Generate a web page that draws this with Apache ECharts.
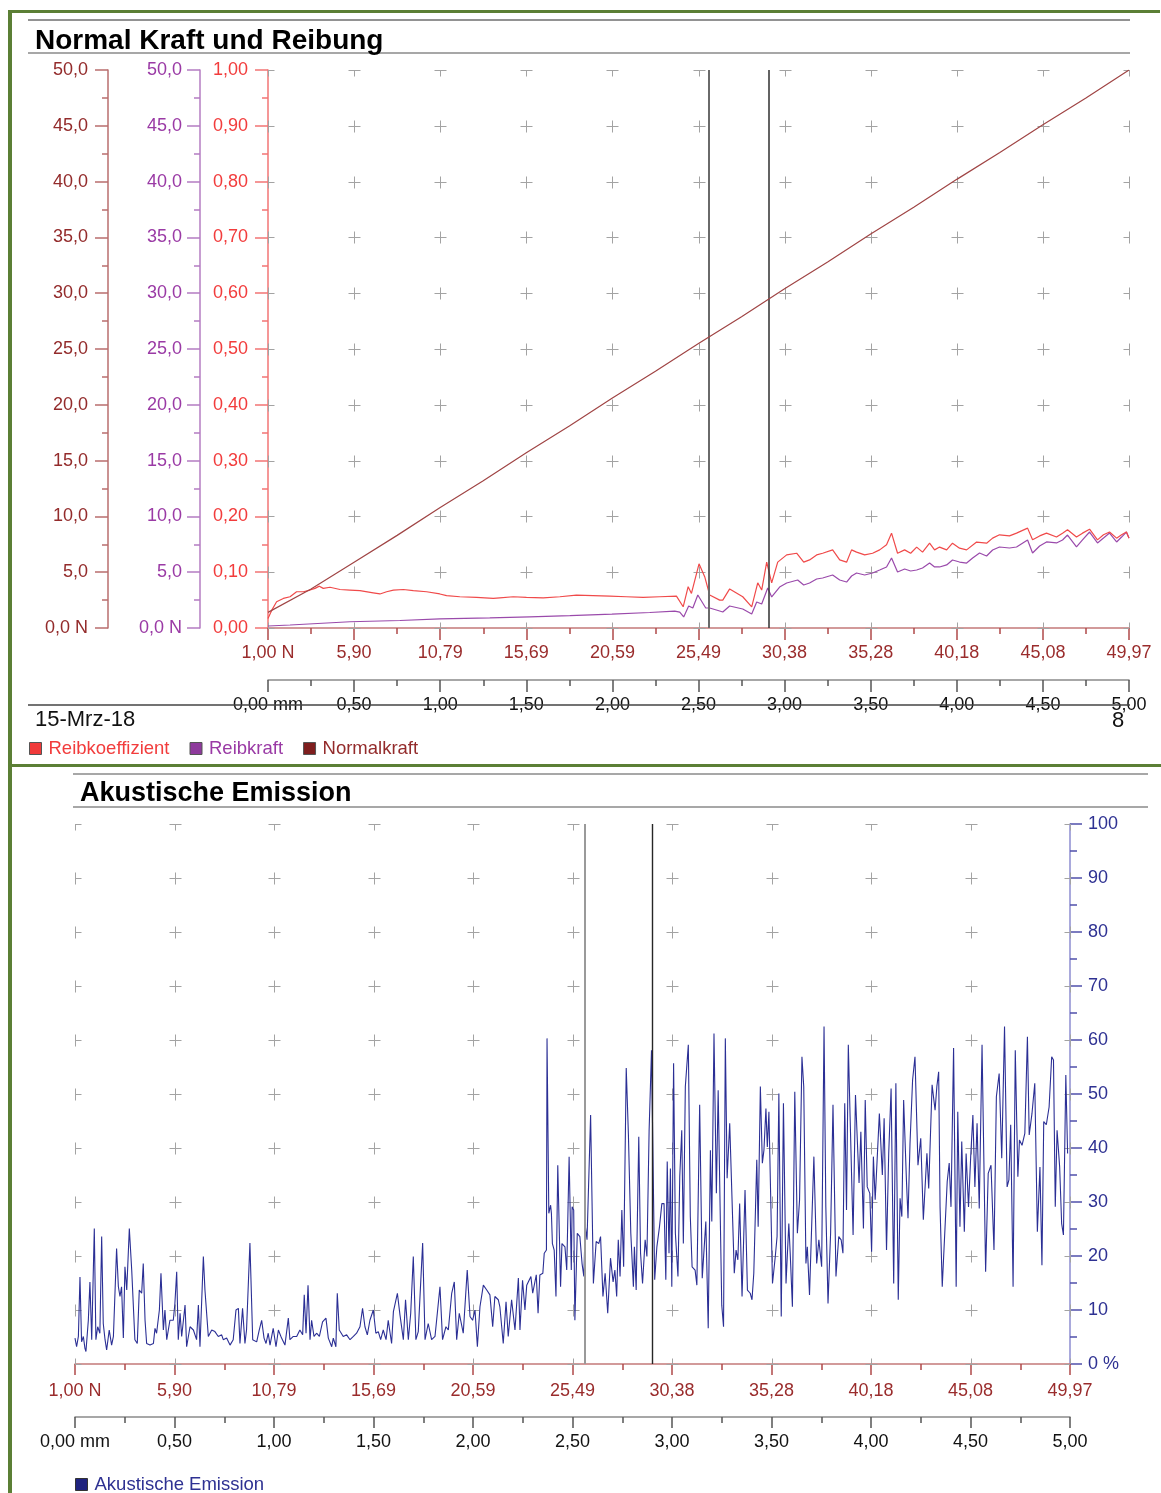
<!DOCTYPE html>
<html><head><meta charset="utf-8">
<script src="https://cdn.jsdelivr.net/npm/echarts@6/dist/echarts.min.js"></script>
<style>html,body{margin:0;padding:0;background:#fff;}#c{width:1161px;height:1493px;}</style>
</head><body><div id="c"></div>
<script>
const FONT = '"Liberation Sans", Arial, Helvetica, sans-serif';

// ---- tick labels ----
const xLabelsN = ['1,00 N','5,90','10,79','15,69','20,59','25,49','30,38','35,28','40,18','45,08','49,97'];
const xLabelsMm = ['0,00 mm','0,50','1,00','1,50','2,00','2,50','3,00','3,50','4,00','4,50','5,00'];
const coefLabels = ['0,00','0,10','0,20','0,30','0,40','0,50','0,60','0,70','0,80','0,90','1,00'];
const kraftLabels = ['0,0 N','5,0','10,0','15,0','20,0','25,0','30,0','35,0','40,0','45,0','50,0'];
const aeLabels = ['0 %','10','20','30','40','50','60','70','80','90','100'];

// ---- marker positions (mm) ----
const markersTop = [2.565, 2.908];
const markersBottom = [2.563, 2.905];

// ---- series: [Weg mm, Wert] ----
const normalkraft = [[0,1.4],[0.25,3.5],[0.5,5.9],[0.75,8.3],[1.0,10.8],[1.25,13.2],[1.5,15.7],[1.75,18.1],[2.0,20.6],[2.25,23.0],[2.5,25.5],[2.75,27.9],[3.0,30.4],[3.25,32.8],[3.5,35.3],[3.75,37.7],[4.0,40.2],[4.25,42.6],[4.5,45.1],[4.75,47.5],[5.0,50.0]];

const reibkoeffizient = [[0.000,0.017],[0.022,0.032],[0.050,0.047],[0.089,0.053],[0.128,0.056],[0.166,0.065],[0.205,0.065],[0.244,0.068],[0.273,0.071],[0.298,0.075],[0.321,0.071],[0.360,0.073],[0.418,0.069],[0.476,0.068],[0.534,0.067],[0.611,0.063],[0.650,0.061],[0.689,0.065],[0.728,0.068],[0.786,0.069],[0.844,0.067],[0.921,0.065],[0.998,0.061],[1.037,0.058],[1.114,0.056],[1.211,0.055],[1.308,0.053],[1.346,0.054],[1.424,0.056],[1.501,0.055],[1.598,0.054],[1.695,0.056],[1.791,0.059],[1.888,0.058],[1.985,0.057],[2.081,0.056],[2.178,0.055],[2.275,0.056],[2.372,0.057],[2.411,0.038],[2.440,0.074],[2.459,0.062],[2.503,0.115],[2.536,0.092],[2.565,0.059],[2.623,0.050],[2.641,0.050],[2.681,0.070],[2.757,0.056],[2.809,0.038],[2.844,0.081],[2.867,0.068],[2.896,0.118],[2.925,0.081],[2.960,0.118],[3.012,0.131],[3.070,0.134],[3.111,0.118],[3.145,0.122],[3.186,0.131],[3.221,0.134],[3.279,0.140],[3.320,0.122],[3.360,0.118],[3.389,0.140],[3.418,0.136],[3.465,0.131],[3.511,0.134],[3.552,0.140],[3.592,0.149],[3.621,0.170],[3.656,0.134],[3.697,0.140],[3.732,0.134],[3.767,0.145],[3.801,0.136],[3.842,0.152],[3.871,0.140],[3.900,0.145],[3.941,0.140],[3.975,0.152],[4.016,0.143],[4.057,0.140],[4.115,0.154],[4.173,0.152],[4.208,0.161],[4.248,0.167],[4.306,0.165],[4.347,0.170],[4.411,0.179],[4.440,0.158],[4.481,0.165],[4.521,0.170],[4.579,0.163],[4.614,0.170],[4.643,0.176],[4.695,0.163],[4.730,0.170],[4.771,0.177],[4.817,0.158],[4.852,0.167],[4.887,0.172],[4.928,0.161],[4.957,0.167],[4.985,0.172],[5.000,0.161]];

const reibkraft = [[0.000,0.18],[0.128,0.27],[0.476,0.56],[0.766,0.67],[0.998,0.81],[1.288,0.90],[1.520,1.00],[1.753,1.10],[1.997,1.25],[2.217,1.39],[2.362,1.52],[2.391,1.43],[2.414,0.99],[2.443,1.97],[2.467,1.79],[2.496,2.96],[2.542,1.79],[2.565,1.79],[2.623,1.52],[2.641,1.43],[2.681,1.97],[2.757,1.70],[2.809,1.25],[2.838,2.33],[2.867,2.15],[2.902,3.58],[2.925,2.78],[2.971,3.67],[3.012,4.03],[3.076,4.30],[3.111,3.85],[3.145,4.03],[3.186,4.39],[3.221,4.48],[3.279,4.75],[3.320,4.30],[3.360,4.12],[3.389,4.66],[3.418,4.93],[3.465,4.75],[3.511,4.93],[3.552,5.20],[3.592,5.47],[3.621,6.27],[3.656,5.02],[3.697,5.29],[3.732,5.11],[3.767,5.20],[3.801,5.38],[3.842,5.82],[3.871,5.47],[3.900,5.47],[3.941,5.65],[3.975,6.09],[4.016,5.91],[4.057,5.82],[4.092,6.27],[4.132,6.72],[4.173,6.45],[4.208,6.99],[4.248,7.26],[4.306,7.17],[4.347,7.26],[4.411,7.89],[4.440,6.72],[4.481,7.35],[4.521,7.71],[4.579,7.62],[4.614,7.89],[4.643,8.33],[4.695,7.26],[4.730,7.89],[4.771,8.60],[4.817,7.62],[4.852,8.06],[4.887,8.51],[4.928,7.71],[4.957,8.15],[4.985,8.60],[5.000,8.06]];

const akustischeEmission = [[0.000,4.8],[0.008,3.2],[0.017,5.1],[0.025,16.1],[0.033,4.1],[0.042,5.1],[0.050,2.9],[0.055,2.3],[0.067,8.1],[0.075,15.2],[0.084,4.5],[0.097,25.1],[0.105,4.5],[0.114,6.9],[0.125,5.7],[0.134,23.6],[0.142,7.5],[0.151,4.5],[0.159,2.6],[0.172,6.3],[0.184,3.5],[0.193,5.1],[0.209,21.4],[0.218,14.3],[0.226,12.5],[0.234,14.3],[0.243,4.8],[0.251,18.0],[0.260,13.7],[0.273,25.1],[0.285,17.4],[0.301,4.5],[0.313,3.8],[0.323,13.7],[0.335,13.1],[0.343,18.6],[0.352,8.1],[0.360,3.8],[0.377,3.5],[0.394,3.8],[0.402,6.6],[0.410,5.7],[0.424,10.0],[0.432,16.8],[0.444,6.3],[0.452,10.0],[0.461,4.5],[0.477,8.1],[0.494,8.1],[0.502,11.2],[0.511,17.1],[0.519,4.5],[0.528,9.4],[0.536,5.1],[0.553,10.9],[0.561,3.2],[0.578,6.9],[0.595,6.3],[0.611,4.5],[0.620,10.9],[0.628,3.2],[0.645,19.9],[0.653,13.7],[0.661,13.7],[0.670,5.1],[0.687,6.3],[0.703,6.0],[0.720,5.1],[0.737,5.4],[0.745,4.5],[0.762,4.8],[0.779,3.5],[0.795,4.5],[0.809,10.0],[0.821,10.3],[0.829,3.8],[0.842,10.3],[0.854,3.8],[0.862,6.3],[0.879,22.4],[0.893,4.5],[0.913,4.1],[0.926,6.3],[0.938,8.1],[0.950,4.8],[0.960,3.8],[0.971,5.7],[0.980,3.5],[0.996,6.6],[1.010,3.2],[1.022,6.3],[1.038,4.8],[1.055,3.5],[1.072,8.5],[1.080,4.5],[1.097,5.1],[1.114,5.1],[1.130,6.3],[1.144,5.4],[1.152,12.8],[1.161,5.7],[1.171,14.6],[1.181,4.5],[1.189,8.1],[1.201,5.1],[1.214,5.7],[1.228,5.1],[1.244,7.8],[1.261,8.5],[1.273,4.8],[1.290,3.2],[1.298,4.8],[1.311,3.2],[1.318,13.1],[1.328,6.3],[1.348,5.1],[1.365,5.4],[1.382,4.5],[1.399,5.1],[1.415,5.7],[1.432,6.9],[1.445,10.3],[1.457,6.9],[1.469,5.4],[1.482,8.1],[1.499,10.0],[1.512,5.7],[1.524,6.0],[1.536,4.5],[1.549,6.3],[1.563,4.5],[1.574,8.1],[1.591,3.8],[1.600,9.7],[1.620,13.1],[1.633,9.1],[1.650,4.5],[1.661,11.9],[1.675,4.5],[1.687,9.4],[1.700,19.9],[1.713,4.5],[1.725,6.0],[1.747,22.4],[1.759,4.5],[1.775,7.5],[1.792,4.5],[1.809,5.1],[1.834,14.3],[1.847,4.5],[1.864,6.9],[1.876,6.3],[1.893,13.1],[1.906,15.2],[1.918,4.5],[1.931,9.4],[1.951,5.7],[1.971,17.4],[1.985,8.8],[1.998,8.1],[2.010,10.0],[2.022,3.2],[2.035,10.6],[2.052,14.6],[2.069,13.7],[2.085,12.8],[2.099,6.9],[2.110,12.5],[2.127,11.9],[2.135,10.6],[2.152,3.8],[2.166,11.5],[2.177,5.1],[2.194,11.9],[2.211,6.3],[2.228,15.9],[2.236,6.3],[2.249,15.5],[2.261,10.0],[2.270,14.6],[2.291,16.2],[2.300,13.1],[2.318,16.5],[2.327,9.4],[2.336,16.5],[2.351,16.8],[2.358,20.5],[2.369,21.1],[2.372,60.3],[2.381,27.9],[2.390,29.4],[2.394,27.9],[2.399,22.3],[2.408,21.1],[2.417,12.5],[2.426,36.8],[2.440,14.3],[2.447,22.3],[2.462,21.7],[2.471,17.4],[2.483,38.4],[2.494,17.4],[2.498,29.1],[2.506,28.5],[2.512,8.1],[2.524,24.2],[2.537,23.6],[2.548,18.6],[2.557,16.2],[2.564,25.7],[2.573,23.0],[2.591,46.1],[2.605,14.9],[2.619,22.7],[2.632,22.3],[2.641,23.6],[2.653,12.5],[2.664,16.8],[2.677,9.4],[2.691,19.6],[2.704,15.2],[2.713,17.4],[2.722,12.5],[2.730,23.0],[2.739,16.2],[2.748,28.5],[2.757,18.0],[2.770,54.8],[2.781,42.4],[2.793,24.2],[2.806,14.3],[2.811,21.7],[2.820,13.7],[2.833,42.1],[2.842,20.5],[2.852,14.9],[2.865,23.0],[2.874,19.9],[2.885,43.3],[2.897,58.1],[2.913,15.6],[2.924,21.7],[2.937,25.4],[2.949,29.7],[2.960,29.7],[2.969,15.6],[2.976,37.5],[2.985,20.5],[2.992,36.2],[2.999,14.3],[3.008,55.7],[3.017,24.2],[3.030,16.2],[3.039,34.7],[3.049,43.3],[3.057,22.3],[3.067,51.4],[3.082,59.1],[3.092,27.3],[3.101,18.0],[3.116,17.4],[3.125,14.6],[3.139,48.0],[3.152,15.9],[3.170,26.4],[3.182,6.6],[3.193,39.6],[3.200,26.4],[3.211,61.2],[3.223,31.6],[3.232,50.7],[3.241,50.7],[3.250,10.9],[3.259,6.9],[3.268,60.3],[3.277,34.4],[3.290,44.6],[3.300,44.6],[3.313,16.8],[3.322,21.1],[3.331,19.3],[3.340,29.7],[3.352,12.5],[3.367,32.2],[3.379,13.7],[3.393,13.1],[3.402,11.9],[3.411,16.8],[3.426,37.8],[3.433,25.4],[3.444,51.4],[3.454,37.2],[3.462,39.6],[3.472,47.3],[3.479,40.2],[3.487,46.7],[3.494,46.4],[3.505,14.9],[3.519,19.9],[3.528,23.6],[3.537,50.1],[3.549,8.8],[3.560,48.3],[3.573,14.9],[3.587,26.0],[3.594,20.5],[3.605,10.6],[3.617,50.4],[3.630,24.2],[3.641,30.4],[3.653,56.9],[3.662,51.4],[3.673,18.6],[3.680,21.7],[3.691,12.8],[3.702,25.7],[3.713,38.4],[3.727,18.6],[3.738,23.0],[3.752,18.0],[3.764,62.5],[3.773,29.1],[3.784,11.2],[3.797,24.2],[3.809,48.0],[3.824,16.2],[3.838,23.6],[3.850,23.0],[3.859,20.5],[3.868,48.3],[3.877,28.5],[3.886,59.1],[3.895,45.8],[3.910,23.9],[3.922,49.8],[3.931,49.5],[3.940,33.5],[3.949,43.0],[3.962,25.1],[3.971,48.9],[3.981,32.8],[3.994,31.6],[4.003,20.8],[4.012,38.4],[4.021,30.4],[4.030,37.2],[4.042,46.4],[4.057,35.0],[4.066,45.5],[4.078,21.1],[4.089,39.0],[4.101,51.0],[4.114,14.9],[4.125,52.0],[4.137,11.9],[4.146,30.7],[4.155,27.3],[4.164,48.9],[4.178,34.1],[4.186,27.0],[4.196,40.8],[4.209,52.6],[4.221,56.9],[4.236,36.8],[4.250,41.8],[4.263,26.7],[4.281,39.0],[4.290,32.5],[4.298,32.5],[4.307,51.7],[4.322,47.0],[4.331,51.4],[4.340,54.1],[4.347,29.1],[4.358,14.3],[4.367,21.4],[4.376,21.4],[4.383,33.8],[4.393,37.2],[4.402,29.1],[4.415,58.5],[4.428,14.3],[4.436,46.7],[4.447,25.4],[4.456,41.2],[4.469,24.5],[4.478,39.0],[4.490,29.1],[4.501,38.4],[4.512,46.1],[4.522,32.8],[4.533,44.6],[4.544,28.8],[4.558,59.1],[4.576,17.1],[4.589,35.3],[4.603,36.8],[4.618,21.1],[4.630,49.5],[4.644,53.8],[4.657,38.1],[4.671,62.5],[4.684,32.8],[4.693,34.1],[4.702,44.3],[4.714,14.3],[4.725,58.1],[4.738,34.7],[4.746,41.5],[4.759,40.5],[4.773,42.7],[4.786,60.6],[4.795,42.4],[4.809,46.4],[4.823,52.0],[4.836,24.5],[4.849,36.5],[4.859,18.3],[4.868,44.9],[4.881,44.3],[4.895,47.6],[4.908,56.9],[4.917,56.3],[4.926,29.1],[4.935,43.3],[4.948,36.5],[4.958,26.0],[4.967,23.9],[4.979,53.5],[4.988,39.0]];

// ---- colours ----
const C = {
  coef: '#f23c3c', coefLine: '#f04a4a', coefAxis: '#f27474',
  kraft: '#9a3aa5', kraftLine: '#9a4aab', kraftAxis: '#b47cc2',
  normal: '#932b2b', normalLine: '#a04545', normalAxis: '#b96e6e',
  xRed: '#9a2c2c', xRedAxis: '#c47a7a', xRedTick: '#b04a4a',
  ae: '#2e3192', aeLine: '#2b2f95', aeAxis: '#8c8cd0',
  green: '#5b7f35'
};

const chart = echarts.init(document.getElementById('c'), null, {renderer: 'canvas'});

function yAxisDef(grid, pos, offset, min, max, interval, labels, lineColor, labelColor, margin) {
  return {
    type: 'value', gridIndex: grid, position: pos, offset: offset, min: min, max: max, interval: interval,
    axisLine: {show: true, onZero: false, lineStyle: {color: lineColor, width: 1.5}},
    axisTick: {show: true, inside: false, length: 13, lineStyle: {color: lineColor, width: 1.5}},
    minorTick: {show: true, splitNumber: 2, length: 6, lineStyle: {color: lineColor, width: 1.5}},
    splitLine: {show: false},
    axisLabel: {show: true, margin: margin, color: labelColor, fontSize: 18, fontFamily: FONT,
      formatter: function (v) { return labels[Math.round((v - min) / interval)]; }}
  };
}
function xAxisDef(grid, offset, labels, lineColor, tickColor, labelColor, margin, tickLen) {
  return {
    type: 'value', gridIndex: grid, position: 'bottom', offset: offset, min: 0, max: 5, interval: 0.5,
    axisLine: {show: true, onZero: false, lineStyle: {color: lineColor, width: 1.5}},
    axisTick: {show: true, inside: false, length: tickLen, lineStyle: {color: tickColor, width: 1.5}},
    minorTick: {show: true, splitNumber: 2, length: Math.round(tickLen / 2), lineStyle: {color: tickColor, width: 1.5}},
    splitLine: {show: false},
    axisLabel: {show: true, margin: margin, color: labelColor, fontSize: 18, fontFamily: FONT,
      showMinLabel: true, showMaxLabel: true,
      formatter: function (v) { return labels[Math.round(v / 0.5)]; }}
  };
}

// grid cross marks at the axis ticks (arms cut at the plot border)
function crossPoints(nx, ny, dy) {
  const pts = [];
  for (let i = 0; i < nx; i++) for (let j = 0; j < ny; j++) pts.push([i * 0.5, j * dy]);
  return pts;
}
function crossSeries(xIdx, yIdx, pts) {
  return {
    type: 'custom', xAxisIndex: xIdx, yAxisIndex: yIdx, clip: false, silent: true, z: 1,
    data: pts, animation: false,
    renderItem: function (params, api) {
      const cs = params.coordSys;
      const p = api.coord([api.value(0), api.value(1)]);
      const x = Math.round(p[0]) + 0.5, y = Math.round(p[1]) + 0.5, L = 6;
      const l = Math.max(x - L, cs.x), r = Math.min(x + L, cs.x + cs.width);
      const t = Math.max(y - L, cs.y), b = Math.min(y + L, cs.y + cs.height);
      return {type: 'group', children: [
        {type: 'line', shape: {x1: l, y1: y, x2: r, y2: y}, style: {stroke: '#a3a3a3', lineWidth: 1}},
        {type: 'line', shape: {x1: x, y1: t, x2: x, y2: b}, style: {stroke: '#a3a3a3', lineWidth: 1}}
      ]};
    }
  };
}
function markers(values, styles) {
  return {
    silent: true, symbol: ['none', 'none'], label: {show: false}, animation: false,
    data: values.map(function (v, i) { return {xAxis: v, lineStyle: styles[i]}; })
  };
}

const option = {
  animation: false,
  backgroundColor: '#ffffff',
  textStyle: {fontFamily: FONT},
  grid: [
    {left: 268, top: 70, width: 861, height: 558, containLabel: false},
    {left: 75, top: 824, width: 995, height: 540, containLabel: false}
  ],
  xAxis: [
    xAxisDef(0, 0, xLabelsN, C.xRedAxis, C.xRedTick, C.xRed, 16, 12),
    xAxisDef(0, 52, xLabelsMm, '#8a8a8a', '#555555', '#111111', 16, 12),
    xAxisDef(1, 0, xLabelsN, C.xRedAxis, C.xRedTick, C.xRed, 18, 11),
    xAxisDef(1, 53, xLabelsMm, '#8a8a8a', '#555555', '#111111', 16, 11)
  ],
  yAxis: [
    yAxisDef(0, 'left', 0, 0, 1, 0.1, coefLabels, C.coefAxis, C.coef, 20),
    yAxisDef(0, 'left', 68, 0, 50, 5, kraftLabels, C.kraftAxis, C.kraft, 18),
    yAxisDef(0, 'left', 160, 0, 50, 5, kraftLabels, C.normalAxis, C.normal, 20),
    (function () {
      const a = yAxisDef(1, 'right', 0, 0, 100, 10, aeLabels, C.aeAxis, C.ae, 18);
      a.axisTick.length = 12; a.axisTick.lineStyle.color = '#5050aa';
      a.minorTick.length = 7; a.minorTick.lineStyle.color = '#5050aa';
      a.axisLabel.align = 'left';
      return a;
    })()
  ],
  legend: [
    {
      left: 29, top: 739, padding: 0, itemWidth: 12, itemHeight: 12, itemGap: 20, icon: 'rect',
      selectedMode: false,
      itemStyle: {borderColor: '#555', borderWidth: 1},
      textStyle: {fontSize: 18.5, fontFamily: FONT, padding: [0, 0, 0, 2]},
      data: [
        {name: 'Reibkoeffizient', textStyle: {color: C.coef}},
        {name: 'Reibkraft', textStyle: {color: C.kraft}},
        {name: 'Normalkraft', textStyle: {color: C.normal}}
      ]
    },
    {
      left: 75, top: 1475, padding: 0, itemWidth: 12, itemHeight: 12, icon: 'rect', selectedMode: false,
      itemStyle: {borderColor: '#333', borderWidth: 1},
      textStyle: {fontSize: 18.5, fontFamily: FONT, padding: [0, 0, 0, 2]},
      data: [{name: 'Akustische Emission', textStyle: {color: C.ae}}]
    }
  ],
  series: [
    crossSeries(0, 0, crossPoints(xLabelsN.length, coefLabels.length, 0.1)),
    crossSeries(2, 3, crossPoints(xLabelsN.length, aeLabels.length, 10)),
    {
      name: 'Reibkraft', type: 'line', xAxisIndex: 0, yAxisIndex: 1, data: reibkraft,
      showSymbol: false, z: 3, color: '#8e3a9c',
      lineStyle: {color: C.kraftLine, width: 1.2}
    },
    {
      name: 'Reibkoeffizient', type: 'line', xAxisIndex: 0, yAxisIndex: 0, data: reibkoeffizient,
      showSymbol: false, z: 4, color: '#f03a3a',
      lineStyle: {color: C.coefLine, width: 1.2},
      markLine: markers(markersTop, [{color: '#6a6a6a', width: 2, type: 'solid'}, {color: '#3c3c3c', width: 1.6, type: 'solid'}])
    },
    {
      name: 'Normalkraft', type: 'line', xAxisIndex: 0, yAxisIndex: 2, data: normalkraft,
      showSymbol: false, z: 5, color: '#7e1e1e',
      lineStyle: {color: C.normalLine, width: 1.2}
    },
    {
      name: 'Akustische Emission', type: 'line', xAxisIndex: 2, yAxisIndex: 3, data: akustischeEmission,
      showSymbol: false, z: 3, color: '#1f237f',
      lineStyle: {color: C.aeLine, width: 1.1},
      markLine: markers(markersBottom, [{color: '#9a9a9a', width: 2, type: 'solid'}, {color: '#262626', width: 1.4, type: 'solid'}])
    }
  ],
  graphic: [
    // green frame
    {type: 'rect', z: 100, shape: {x: 8, y: 10, width: 1152, height: 3}, style: {fill: C.green}},
    {type: 'rect', z: 100, shape: {x: 8, y: 10, width: 4, height: 1483}, style: {fill: C.green}},
    {type: 'rect', z: 100, shape: {x: 8, y: 764, width: 1153, height: 3}, style: {fill: C.green}},
    // panel 1 header
    {type: 'line', z: 100, shape: {x1: 28, y1: 20, x2: 1130, y2: 20}, style: {stroke: '#6e6e6e', lineWidth: 1.5}},
    {type: 'line', z: 100, shape: {x1: 28, y1: 53, x2: 1130, y2: 53}, style: {stroke: '#8a8a8a', lineWidth: 1.5}},
    {type: 'text', z: 100, x: 35, y: 41, style: {text: 'Normal Kraft und Reibung', font: 'bold 28px ' + FONT, fill: '#000', verticalAlign: 'middle'}},
    // panel 1 footer
    {type: 'line', z: 100, shape: {x1: 28, y1: 705, x2: 1130, y2: 705}, style: {stroke: '#444', lineWidth: 1.5}},
    {type: 'text', z: 100, x: 35, y: 720, style: {text: '15-Mrz-18', font: '22px ' + FONT, fill: '#111', verticalAlign: 'middle'}},
    {type: 'text', z: 100, x: 1112, y: 721, style: {text: '8', font: '22px ' + FONT, fill: '#111', verticalAlign: 'middle'}},
    // panel 2 header
    {type: 'line', z: 100, shape: {x1: 73, y1: 774, x2: 1148, y2: 774}, style: {stroke: '#8a8a8a', lineWidth: 1.5}},
    {type: 'line', z: 100, shape: {x1: 73, y1: 807, x2: 1148, y2: 807}, style: {stroke: '#8a8a8a', lineWidth: 1.5}},
    {type: 'text', z: 100, x: 80, y: 794, style: {text: 'Akustische Emission', font: 'bold 27px ' + FONT, fill: '#000', verticalAlign: 'middle'}}
  ]
};
chart.setOption(option);
</script>
</body></html>
